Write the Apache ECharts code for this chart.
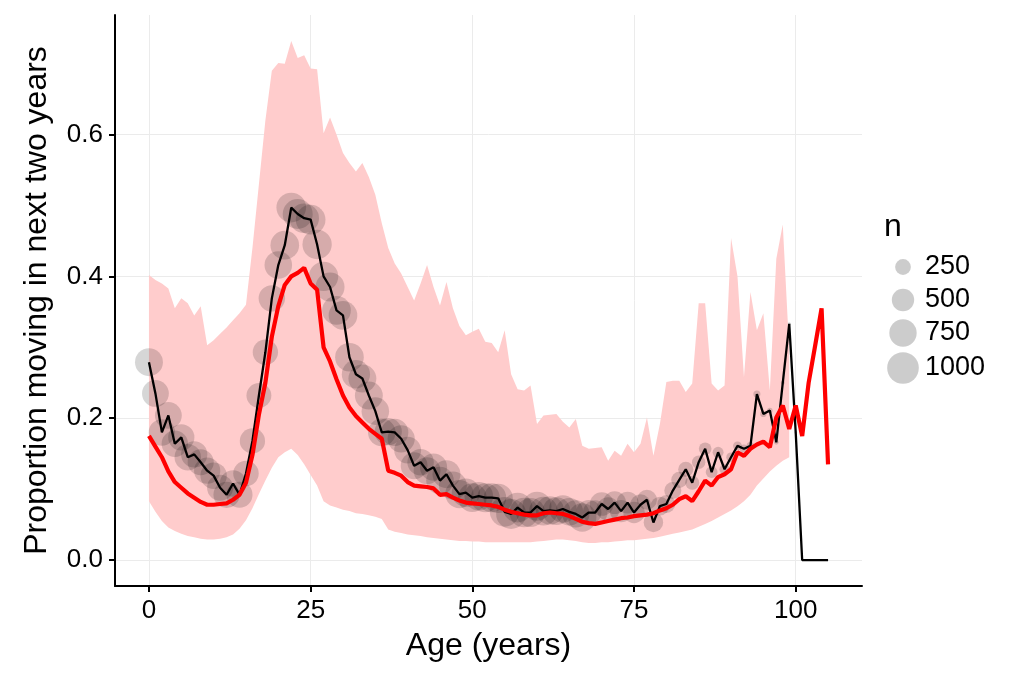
<!DOCTYPE html>
<html><head><meta charset="utf-8">
<script src="https://cdn.jsdelivr.net/npm/echarts@6/dist/echarts.min.js"></script>
<style>html,body{margin:0;padding:0;background:#fff}#c{width:1024px;height:683px}</style>
</head><body><div id="c"></div>
<script>
const ages = [0,1,2,3,4,5,6,7,8,9,10,11,12,13,14,15,16,17,18,19,20,21,22,23,24,25,26,27,28,29,30,31,32,33,34,35,36,37,38,39,40,41,42,43,44,45,46,47,48,49,50,51,52,53,54,55,56,57,58,59,60,61,62,63,64,65,66,67,68,69,70,71,72,73,74,75,76,77,78,79,80,81,82,83,84,85,86,87,88,89,90,91,92,93,94,95,96,97,98,99,100,101,102,103,104,105];
const observed = [0.279,0.235,0.180,0.204,0.164,0.173,0.145,0.149,0.138,0.126,0.119,0.102,0.092,0.108,0.092,0.122,0.168,0.232,0.293,0.369,0.416,0.444,0.497,0.488,0.482,0.480,0.445,0.400,0.385,0.352,0.345,0.286,0.262,0.256,0.232,0.210,0.180,0.181,0.180,0.171,0.155,0.133,0.138,0.126,0.131,0.112,0.121,0.105,0.093,0.095,0.088,0.090,0.088,0.088,0.087,0.068,0.065,0.074,0.067,0.067,0.076,0.069,0.070,0.069,0.072,0.068,0.065,0.060,0.067,0.067,0.079,0.072,0.081,0.069,0.081,0.067,0.078,0.085,0.053,0.076,0.079,0.098,0.113,0.128,0.109,0.138,0.157,0.124,0.152,0.128,0.145,0.161,0.157,0.161,0.234,0.206,0.211,0.166,0.250,0.333,0.180,0,0,0,0,0];
const nObs = [780,720,700,720,700,690,700,690,680,690,700,680,690,700,680,650,640,620,640,700,760,820,880,900,880,880,860,860,840,820,820,820,800,780,780,760,760,740,740,740,720,720,700,720,740,760,780,780,800,800,820,820,840,840,860,880,900,880,860,840,840,820,800,780,760,760,740,800,640,600,560,540,520,500,480,460,430,400,380,350,320,290,260,230,200,180,160,140,120,105,90,80,70,60,50,40,30,22,16,10,7,4,3,2,2,1];
const predicted = [0.175,0.160,0.145,0.125,0.110,0.102,0.094,0.088,0.082,0.078,0.078,0.079,0.080,0.085,0.092,0.109,0.148,0.205,0.250,0.315,0.358,0.388,0.400,0.405,0.412,0.390,0.381,0.300,0.280,0.255,0.232,0.215,0.203,0.194,0.185,0.178,0.171,0.126,0.123,0.119,0.110,0.105,0.104,0.103,0.101,0.092,0.093,0.088,0.084,0.081,0.080,0.079,0.078,0.077,0.075,0.071,0.068,0.066,0.064,0.063,0.063,0.066,0.067,0.066,0.065,0.062,0.058,0.054,0.052,0.051,0.053,0.055,0.057,0.059,0.060,0.062,0.063,0.064,0.066,0.070,0.073,0.078,0.086,0.090,0.083,0.097,0.112,0.105,0.117,0.121,0.128,0.152,0.147,0.157,0.163,0.167,0.159,0.201,0.218,0.185,0.218,0.175,0.250,0.302,0.355,0.135];
const ribbonUpper = [0.402,0.395,0.390,0.383,0.355,0.369,0.362,0.345,0.358,0.303,0.310,0.319,0.328,0.338,0.348,0.360,0.440,0.530,0.620,0.690,0.701,0.700,0.732,0.708,0.712,0.693,0.692,0.602,0.624,0.600,0.574,0.560,0.548,0.560,0.540,0.515,0.475,0.440,0.418,0.404,0.385,0.366,0.390,0.416,0.385,0.359,0.392,0.355,0.330,0.317,0.322,0.326,0.308,0.306,0.293,0.324,0.262,0.241,0.239,0.246,0.192,0.204,0.205,0.206,0.195,0.187,0.199,0.161,0.157,0.158,0.159,0.140,0.154,0.147,0.164,0.152,0.164,0.201,0.147,0.192,0.251,0.253,0.253,0.237,0.249,0.362,0.362,0.249,0.239,0.246,0.454,0.400,0.258,0.378,0.324,0.348,0.239,0.425,0.473,0.296];
const ribbonLower = [0.083,0.068,0.055,0.046,0.041,0.037,0.034,0.032,0.030,0.029,0.029,0.030,0.032,0.036,0.044,0.056,0.073,0.093,0.112,0.130,0.145,0.152,0.157,0.148,0.135,0.120,0.105,0.083,0.077,0.074,0.071,0.069,0.066,0.065,0.063,0.061,0.058,0.043,0.040,0.038,0.036,0.035,0.034,0.032,0.031,0.030,0.029,0.028,0.027,0.027,0.026,0.026,0.025,0.025,0.025,0.025,0.025,0.025,0.025,0.025,0.026,0.027,0.028,0.029,0.029,0.028,0.027,0.025,0.024,0.024,0.025,0.025,0.026,0.027,0.028,0.028,0.029,0.030,0.031,0.033,0.035,0.037,0.039,0.041,0.043,0.047,0.051,0.055,0.060,0.065,0.070,0.076,0.083,0.092,0.105,0.115,0.125,0.133,0.140,0.145];
const xTicks = [0,25,50,75,100];
const yTicks = [0,0.2,0.4,0.6];
const legendN = [250,500,750,1000];

const FONT = "'Liberation Sans', Arial, sans-serif";
const sizeOf = n => Math.sqrt(n);
const ribbonAges = ages.slice(0, ribbonUpper.length);

const chart = echarts.init(document.getElementById('c'), null, {renderer:'canvas'});

const legendRows = [267, 300, 333, 368];
const graphics = [{type:'text', left:884, top:211, style:{text:'n', font:'32px ' + FONT, fill:'#000'}}];
legendN.forEach((n, i) => {
  graphics.push({type:'circle', shape:{cx:903, cy:legendRows[i], r:sizeOf(n)/2}, style:{fill:'rgba(0,0,0,0.2)'}});
  graphics.push({type:'text', x:925, y:legendRows[i], style:{text:String(n), font:'27px ' + FONT, fill:'#000', verticalAlign:'middle', align:'left'}});
});

chart.setOption({
  animation:false,
  backgroundColor:'#fff',
  grid:{left:115, right:162, top:15, bottom:97, containLabel:false},
  xAxis:{
    type:'value', min:-5.25, max:110.25,
    name:'Age (years)', nameLocation:'middle', nameGap:44,
    nameTextStyle:{fontSize:32, fontFamily:FONT, color:'#000'},
    axisLine:{show:true, onZero:false, lineStyle:{color:'#000', width:2}},
    axisTick:{show:true, customValues:xTicks, length:6, lineStyle:{color:'#000', width:2}},
    axisLabel:{customValues:xTicks, fontSize:26, fontFamily:FONT, color:'#000', margin:12},
    splitLine:{show:true, lineStyle:{color:'#ebebeb', width:1}}
  },
  yAxis:{
    type:'value', min:-0.0366, max:0.7686,
    name:'Proportion moving in next two years', nameLocation:'middle', nameGap:62, nameRotate:90,
    nameTextStyle:{fontSize:32, fontFamily:FONT, color:'#000'},
    axisLine:{show:true, onZero:false, lineStyle:{color:'#000', width:2}},
    axisTick:{show:true, customValues:yTicks, length:6, lineStyle:{color:'#000', width:2}},
    axisLabel:{customValues:yTicks, fontSize:26, fontFamily:FONT, color:'#000', margin:12, formatter:v => v.toFixed(1)},
    splitLine:{show:true, lineStyle:{color:'#ebebeb', width:1}}
  },
  graphic:graphics,
  series:[
    {
      type:'custom', z:1, silent:true,
      data:[[0, 0]],
      renderItem:(params, api) => {
        const pts = [];
        ribbonAges.forEach((a, i) => pts.push(api.coord([a, ribbonUpper[i]])));
        for (let i = ribbonAges.length - 1; i >= 0; i--) pts.push(api.coord([ribbonAges[i], ribbonLower[i]]));
        return {type:'polygon', shape:{points:pts}, style:{fill:'#ffcccc', stroke:null}};
      }
    },
    {
      type:'scatter', z:2, silent:true,
      data:ages.map((a, i) => [a, observed[i], nObs[i]]),
      symbolSize:d => sizeOf(d[2]),
      itemStyle:{color:'rgba(0,0,0,0.2)'}
    },
    {
      type:'line', z:3, silent:true, showSymbol:false,
      data:ages.map((a, i) => [a, observed[i]]),
      lineStyle:{color:'#000', width:2.3}
    },
    {
      type:'line', z:4, silent:true, showSymbol:false,
      data:ages.map((a, i) => [a, predicted[i]]),
      lineStyle:{color:'#ff0000', width:4.2}
    }
  ]
});
</script></body></html>
